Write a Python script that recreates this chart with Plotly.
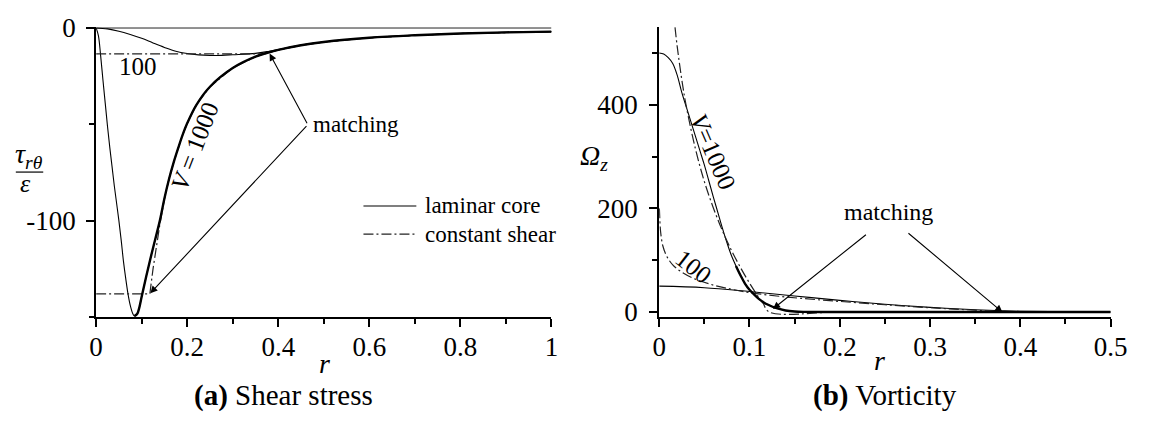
import plotly.graph_objects as go

# ---------------- (a) shear stress tau_r_theta / epsilon ----------------
r_lam_1000 = [0, 0.005, 0.01, 0.015, 0.02, 0.025, 0.03, 0.035, 0.04, 0.045, 0.05,
              0.055, 0.06, 0.065, 0.07, 0.075, 0.08, 0.084, 0.09, 0.095, 0.1, 0.11,
              0.12, 0.13, 0.14, 0.15, 0.16, 0.17, 0.18, 0.19, 0.2, 0.22, 0.25, 0.3, 0.35,
              0.38, 0.4, 0.45, 0.5, 0.6, 0.7, 0.8, 0.9, 1.0]
tau_lam_1000 = [0, -4, -14.5, -27, -39, -51, -62, -72, -82, -91, -100,
                -110, -121, -130, -138, -144, -148, -149.5, -148.5, -145, -139.5, -129,
                -119, -109.5, -100, -88.5, -78.5, -70, -62.5, -55.5, -49.5, -40, -30.5, -20.8,
                -14.9, -12.6, -11.4, -9.0, -7.3, -5.1, -3.8, -2.9, -2.3, -1.9]

r_cs_1000 = [0, 0.118, 0.125, 0.13, 0.14, 0.15, 0.16, 0.17, 0.18, 0.19, 0.2, 0.22, 0.25,
             0.3, 0.35, 0.38, 0.4, 0.45, 0.5, 0.6, 0.7, 0.8, 0.9, 1.0]
tau_cs_1000 = [-138, -138, -125, -117, -102, -89, -78.5, -70, -62.5, -55.5, -49.5, -40, -30.5,
               -20.8, -14.9, -12.6, -11.4, -9.0, -7.3, -5.1, -3.8, -2.9, -2.3, -1.9]

r_lam_100 = [0, 0.025, 0.05, 0.075, 0.1, 0.125, 0.15, 0.175, 0.2, 0.225, 0.25, 0.265,
             0.3, 0.35, 0.38, 0.4, 0.45, 0.5, 0.6, 0.7, 0.8, 0.9, 1.0]
tau_lam_100 = [0, -0.5, -1.7, -3.4, -5.4, -7.8, -10.1, -12.1, -13.3, -14.0, -14.3, -14.3,
               -13.9, -13.2, -12.1, -11.2, -8.9, -7.3, -5.1, -3.8, -2.9, -2.3, -1.9]

r_cs_100 = [0, 0.365, 0.38, 0.4, 0.45, 0.5, 0.6, 0.7, 0.8, 0.9, 1.0]
tau_cs_100 = [-13.5, -13.5, -12.6, -11.4, -9.0, -7.3, -5.1, -3.8, -2.9, -2.3, -1.9]

# ---------------- (b) vorticity Omega_z ----------------
r_om_lam_1000 = [0, 0.005, 0.01, 0.015, 0.02, 0.025, 0.03, 0.035, 0.04, 0.045, 0.05,
                 0.055, 0.06, 0.065, 0.07, 0.075, 0.08, 0.085, 0.09, 0.095, 0.1, 0.105,
                 0.11, 0.115, 0.12, 0.13, 0.14, 0.15, 0.16, 0.2, 0.3, 0.4, 0.5]
om_lam_1000 = [500, 498, 491, 480, 457, 424, 396, 368, 340, 312, 284,
               253, 222, 192, 162, 134, 109, 89, 71, 55, 43, 34,
               26, 19.5, 14.5, 7.5, 3, 1, 0.3, 0, 0, 0, 0]

r_om_cs_1000 = [0.0175, 0.02, 0.025, 0.03, 0.04, 0.05, 0.06, 0.07, 0.08, 0.09, 0.1,
                0.11, 0.115, 0.122, 0.2, 0.3, 0.4, 0.5]
om_cs_1000 = [550, 512, 449, 397, 316, 252, 201, 157, 119, 86, 56,
              29, 17, 0, 0, 0, 0, 0]

r_om_lam_100 = [0, 0.05, 0.1, 0.15, 0.2, 0.25, 0.3, 0.35, 0.38, 0.4, 0.45, 0.5]
om_lam_100 = [50, 47, 39.5, 31, 22.5, 15, 9, 4.5, 2.5, 1.5, 0.4, 0]

r_om_cs_100 = [0.0002, 0.0005, 0.001, 0.002, 0.004, 0.008, 0.015, 0.025, 0.04, 0.06,
               0.08, 0.1, 0.13, 0.16, 0.2, 0.25, 0.3, 0.35, 0.383, 0.4, 0.5]
om_cs_100 = [200, 187, 167, 148, 128, 109, 91, 77, 63.5, 52,
             44, 37.6, 31, 26, 20.5, 14, 8.3, 3.5, 0, 0, 0]

# tick labels
xa_ticks = [0, 0.2, 0.4, 0.6, 0.8, 1.0]
xa_labels = ["0", "0.2", "0.4", "0.6", "0.8", "1"]
ya_ticks = [-100, 0]
ya_labels = ["-100", "0"]
xb_ticks = [0, 0.1, 0.2, 0.3, 0.4, 0.5]
xb_labels = ["0", "0.1", "0.2", "0.3", "0.4", "0.5"]
yb_ticks = [0, 200, 400]
yb_labels = ["0", "200", "400"]

W, H = 1158, 423
FONT = "Liberation Serif"


def px(x):
    return x / W


def py(y):
    return 1 - y / H


SOLID = dict(color="black", width=1.1)
HEAVY = dict(color="black", width=2.4)
DASHDOT = dict(color="#222222", width=1.2, dash="10px,3px,2px,3px")

fig = go.Figure()

# panel (a): V = 1000 and V = 100, laminar core and constant shear
fig.add_trace(go.Scatter(x=r_lam_1000, y=tau_lam_1000, mode="lines", line=SOLID,
                         line_shape="spline", xaxis="x", yaxis="y", name="laminar core"))
fig.add_trace(go.Scatter(x=r_cs_1000, y=tau_cs_1000, mode="lines", line=DASHDOT,
                         xaxis="x", yaxis="y", name="constant shear"))
fig.add_trace(go.Scatter(x=r_lam_100, y=tau_lam_100, mode="lines", line=SOLID,
                         line_shape="spline", xaxis="x", yaxis="y"))
fig.add_trace(go.Scatter(x=r_cs_100, y=tau_cs_100, mode="lines", line=DASHDOT,
                         xaxis="x", yaxis="y"))
# coinciding outer branch, where the two V = 1000 models overlap
k_a = r_lam_1000.index(0.084)
fig.add_trace(go.Scatter(x=r_lam_1000[k_a:], y=tau_lam_1000[k_a:], mode="lines", line=HEAVY,
                         line_shape="spline", xaxis="x", yaxis="y"))

# panel (b)
fig.add_trace(go.Scatter(x=r_om_lam_1000, y=om_lam_1000, mode="lines", line=SOLID,
                         line_shape="spline", xaxis="x2", yaxis="y2"))
fig.add_trace(go.Scatter(x=r_om_cs_1000, y=om_cs_1000, mode="lines", line=DASHDOT,
                         line_shape="spline", xaxis="x2", yaxis="y2"))
fig.add_trace(go.Scatter(x=r_om_lam_100, y=om_lam_100, mode="lines", line=SOLID,
                         line_shape="spline", xaxis="x2", yaxis="y2"))
fig.add_trace(go.Scatter(x=r_om_cs_100, y=om_cs_100, mode="lines", line=DASHDOT,
                         line_shape="spline", xaxis="x2", yaxis="y2"))
k_b = r_om_lam_1000.index(0.085)
fig.add_trace(go.Scatter(x=r_om_lam_1000[k_b:], y=om_lam_1000[k_b:], mode="lines",
                         line=HEAVY, line_shape="spline", xaxis="x2", yaxis="y2"))

axis_common = dict(showline=True, linewidth=2, linecolor="black", showgrid=False,
                   zeroline=False, ticks="outside", ticklen=8, tickwidth=1.5,
                   tickcolor="black", tickfont=dict(family=FONT, size=27, color="black"))
minor_common = dict(ticklen=5, tickwidth=1.5, tickcolor="black", ticks="outside")

fig.update_layout(
    width=W, height=H, margin=dict(l=0, r=0, t=0, b=0),
    paper_bgcolor="white", plot_bgcolor="white", showlegend=False,
    xaxis=dict(domain=[px(91), px(556)], range=[0, 1], anchor="y",
               tickmode="array", tickvals=xa_ticks, ticktext=xa_labels,
               ticklabelstandoff=-3, minor=dict(dtick=0.1, **minor_common),
               **axis_common),
    yaxis=dict(domain=[py(322), py(14)], range=[-150, 0.4], anchor="x",
               tickmode="array", tickvals=ya_ticks, ticktext=ya_labels,
               ticklabelstandoff=5, minor=dict(tickvals=[-150, -50], **minor_common),
               **axis_common),
    xaxis2=dict(domain=[px(666), px(1127)], range=[0, 0.5], anchor="y2",
                tickmode="array", tickvals=xb_ticks, ticktext=xb_labels,
                ticklabelstandoff=-3, minor=dict(dtick=0.05, **minor_common),
                **axis_common),
    yaxis2=dict(domain=[py(321.7), py(14)], range=[-9, 550], anchor="x2",
                tickmode="array", tickvals=yb_ticks, ticktext=yb_labels,
                ticklabelstandoff=6, minor=dict(tickvals=[100, 300, 500], **minor_common),
                **axis_common),
)

shapes = [
    # tau = 0 reference line across panel (a)
    dict(type="line", xref="x", yref="y", x0=0, x1=1, y0=0, y1=0,
         line=dict(color="black", width=1)),
    # fraction bar of the y-axis label in (a)
    dict(type="line", xref="paper", yref="paper", x0=px(9), x1=px(37), y0=py(168), y1=py(168),
         line=dict(color="black", width=1.2)),
    # legend samples
    dict(type="line", xref="paper", yref="paper", x0=px(364), x1=px(418), y0=py(204), y1=py(204),
         line=dict(color="black", width=1.1)),
    dict(type="line", xref="paper", yref="paper", x0=px(364), x1=px(418), y0=py(234), y1=py(234),
         line=dict(color="#222222", width=1.2, dash="10px,3px,2px,3px")),
]
fig.update_layout(shapes=shapes)

TXT = dict(family=FONT, color="black")


def label(x, y, text, size, xref="paper", yref="paper", angle=0, xanchor="center"):
    return dict(x=x, y=y, xref=xref, yref=yref, text=text, showarrow=False,
                textangle=angle, xanchor=xanchor, yanchor="middle",
                font=dict(size=size, **TXT))


def arrow(x, y, ax, ay, xref, yref):
    return dict(x=x, y=y, ax=ax, ay=ay, xref=xref, yref=yref, axref=xref, ayref=yref,
                text="", showarrow=True, arrowhead=2, arrowsize=1.3, arrowwidth=1.1,
                arrowcolor="black", standoff=0)


annotations = [
    # axis titles
    label(px(22), py(150), "<i>τ</i><sub><i>rθ</i></sub>", 28),
    label(px(19), py(180), "<i>ε</i>", 26),
    label(px(599), py(152), "<i>Ω</i><sub><i>z</i></sub>", 28),
    label(px(324), py(371), "<i>r</i>", 28),
    label(px(891), py(368), "<i>r</i>", 28),
    # captions
    label(px(282), py(405), "<b>(a)</b> Shear stress", 29),
    label(px(897), py(405), "<b>(b)</b> Vorticity", 29),
    # legend text
    label(px(425), py(204), "laminar core", 23, xanchor="left"),
    label(px(425), py(234), "constant shear", 23, xanchor="left"),
    # curve labels, panel (a)
    label(0.0925, -19.8, "100", 25, "x", "y"),
    label(0.218, -61.2, "<i>V</i> = 1000", 25, "x", "y", angle=-69),
    label(0.571, -50.2, "matching", 23, "x", "y"),
    # curve labels, panel (b)
    label(0.0593, 309, "<i>V</i>=1000", 25, "x2", "y2", angle=67),
    label(0.038, 88.5, "100", 25, "x2", "y2", angle=38),
    label(0.254, 194, "matching", 24, "x2", "y2"),
    # matching-point arrows
    arrow(0.381, -13.3, 0.465, -50.2, "x", "y"),
    arrow(0.119, -137.7, 0.465, -50.2, "x", "y"),
    arrow(0.126, 6, 0.2306, 151.6, "x2", "y2"),
    arrow(0.38, 0, 0.2744, 154.5, "x2", "y2"),
]
fig.update_layout(annotations=annotations)

fig.write_html("out.html")
